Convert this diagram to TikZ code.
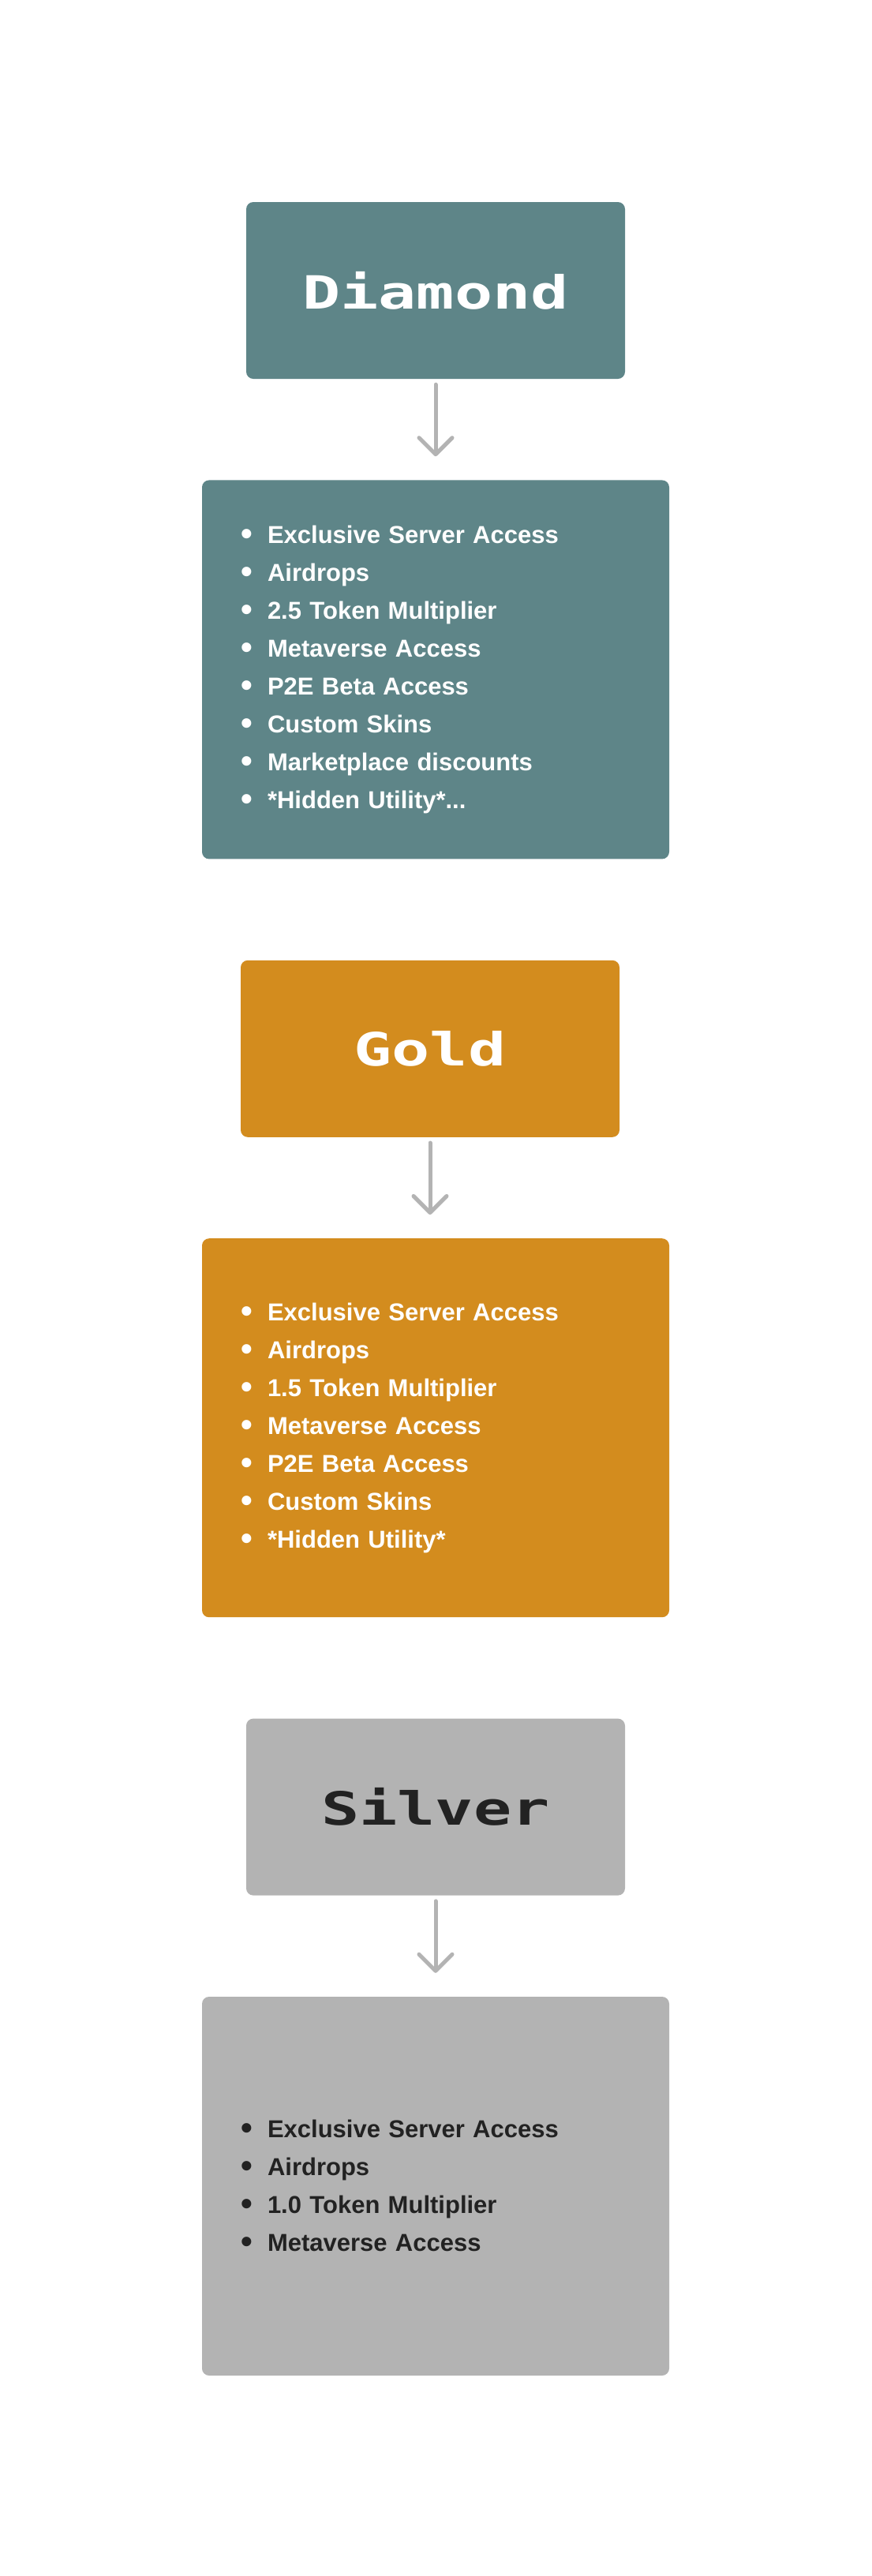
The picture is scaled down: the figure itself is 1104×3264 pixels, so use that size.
\documentclass[tikz,border=0pt]{standalone}
\usepackage{fontspec}
\setmainfont{Liberation Sans}
\newfontfamily\pixelfont{DejaVu Sans Mono Bold}[FakeStretch=1.38]
\usetikzlibrary{positioning, arrows.meta}

\definecolor{diamondteal}{HTML}{5E8588}
\definecolor{goldorange}{HTML}{D38C1E}
\definecolor{silvergrey}{HTML}{B3B3B3}
\definecolor{inkdark}{HTML}{222222}
\definecolor{arrowgrey}{HTML}{B3B3B3}

% one bullet line of a perks box
\newcommand{\perk}[1]{\makebox[32pt][l]{\hspace{-2pt}\raisebox{-2pt}{\fontsize{42}{48}\selectfont\textbullet}}#1}

\begin{document}
\begin{tikzpicture}[
    x=1pt, y=1pt,
    node distance = 128pt,
    tier/.style  = {rectangle, rounded corners=9pt, inner sep=0pt,
                    minimum width=480pt, minimum height=224pt,
                    font={\pixelfont\fontsize{58}{58}\selectfont}},
    perks/.style = {rectangle, rounded corners=9pt,
                    inner xsep=51pt, inner ysep=0pt,
                    minimum width=592pt, minimum height=480pt,
                    text width=490pt, align=left,
                    font={\bfseries\fontsize{31}{48}\selectfont}},
    flow/.style  = {draw=arrowgrey, line width=5pt, line cap=round,
                    -{Straight Barb[length=21pt,width=42pt,line cap=round,line join=round]},
                    shorten <=7pt, shorten >=30pt}
  ]

  \fill[white] (0,0) rectangle (1104,-3264);
  \useasboundingbox (0,0) rectangle (1104,-3264);

  % Diamond tier
  \node[tier, fill=diamondteal, text=white] (diamond) at (552,-368) {Diamond};
  \node[perks, fill=diamondteal, text=white, below=of diamond] (diamondperks)
       {\perk{Exclusive Server Access}\\
        \perk{Airdrops}\\
        \perk{2.5 Token Multiplier}\\
        \perk{Metaverse Access}\\
        \perk{P2E Beta Access}\\
        \perk{Custom Skins}\\
        \perk{Marketplace discounts}\\
        \perk{*Hidden Utility*...}};

  % Gold tier
  \node[tier, fill=goldorange, text=white, below=of diamondperks, xshift=-7pt] (gold) {Gold};
  \node[perks, fill=goldorange, text=white, below=of gold, xshift=7pt] (goldperks)
       {\perk{Exclusive Server Access}\\
        \perk{Airdrops}\\
        \perk{1.5 Token Multiplier}\\
        \perk{Metaverse Access}\\
        \perk{P2E Beta Access}\\
        \perk{Custom Skins}\\
        \perk{*Hidden Utility*}};

  % Silver tier
  \node[tier, fill=silvergrey, text=inkdark, below=of goldperks] (silver) {Silver};
  \node[perks, fill=silvergrey, text=inkdark, below=of silver] (silverperks)
       {\perk{Exclusive Server Access}\\
        \perk{Airdrops}\\
        \perk{1.0 Token Multiplier}\\
        \perk{Metaverse Access}};

  % arrows
  \draw[flow] (diamond.south) -- (diamondperks.north);
  \draw[flow] (gold.south) -- (gold.south |- goldperks.north);
  \draw[flow] (silver.south) -- (silverperks.north);

\end{tikzpicture}
\end{document}
